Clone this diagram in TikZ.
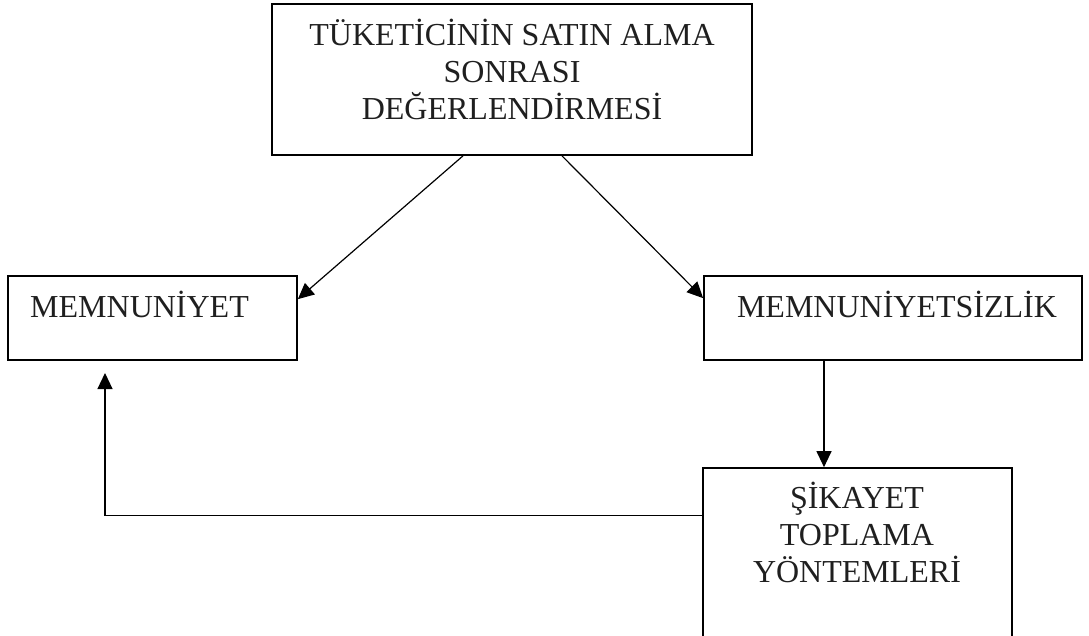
\documentclass[tikz,border=0pt]{standalone}
\usepackage{fontspec}
\setmainfont{Liberation Serif}
\usetikzlibrary{arrows.meta}
\begin{document}
\begin{tikzpicture}[x=1pt,y=-1pt,
  box/.style={draw, line width=1.7pt, inner sep=0pt, rectangle},
  lbl/.style={font=\fontsize{32}{37}\selectfont, inner sep=0pt, align=center, text=black!88},
  conn/.style={line width=1.2pt, -{Triangle[length=16pt,width=15pt]}}]
\useasboundingbox (0,0) rectangle (1089,635);

% boxes
\node[box, minimum width=480pt, minimum height=151pt] (eval) at (512,79.5) {};
\node[box, minimum width=289pt, minimum height=84pt] (memnun) at (152.5,318) {};
\node[box, minimum width=378pt, minimum height=84pt] (memnunsiz) at (893,318) {};
\node[box, minimum width=309pt, minimum height=182pt] (sikayet) at (857.5,559) {};

% texts (base anchor sits on the last line)
\node[lbl, anchor=base] (evaltext) at (512,119) {TÜKETİCİNİN SATIN ALMA\\SONRASI\\DEĞERLENDİRMESİ};
\node[lbl, anchor=base west] (memnuntext) at (30,317) {MEMNUNİYET};
\node[lbl, anchor=base] (memnunsiztext) at (897,317) {MEMNUNİYETSİZLİK};
\node[lbl, anchor=base] (sikayettext) at (857,582) {ŞİKAYET\\TOPLAMA\\YÖNTEMLERİ};

% connectors
\coordinate (fb) at (105,373);
\coordinate (down) at ([xshift=-69pt]memnunsiz.south);
\draw[conn] ([xshift=-49pt]eval.south) -- ([yshift=-24pt]memnun.north east);
\draw[conn] ([xshift=50pt]eval.south) -- ([yshift=-23pt]memnunsiz.north west);
\draw[conn] (down) -- (down |- sikayet.north);
\draw[conn] ([yshift=-48pt]sikayet.north west) -| (fb);
\end{tikzpicture}
\end{document}
